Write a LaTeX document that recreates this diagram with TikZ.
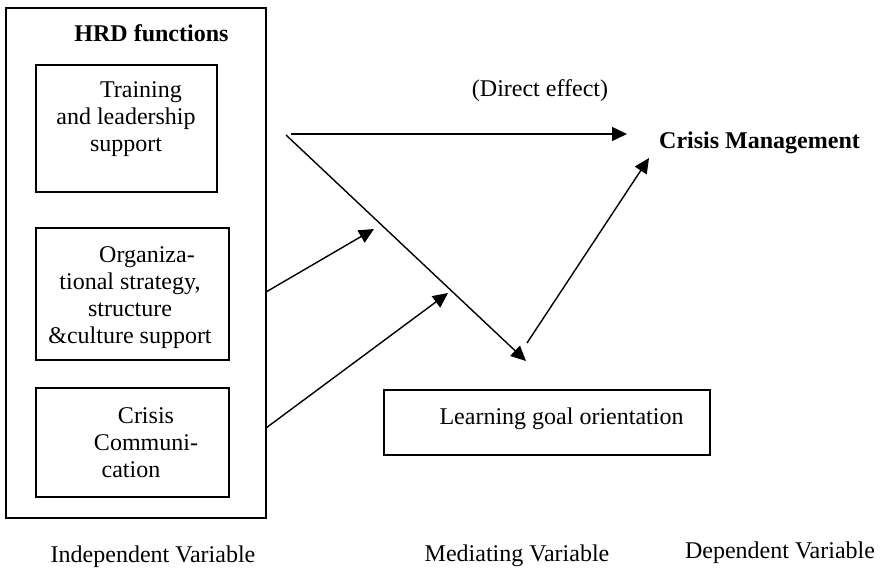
\documentclass[tikz,border=0pt]{standalone}
\usepackage{fontspec}
\setmainfont{Liberation Serif}
\usetikzlibrary{arrows.meta}
\begin{document}
\begin{tikzpicture}[x=1pt,y=-1pt,
  every node/.style={font=\fontsize{24}{27}\selectfont, inner sep=0pt},
  frame/.style={draw, line width=1.6pt, rectangle},
  label text/.style={align=center},
  link/.style={line width=1.4pt, -{Triangle[length=15pt,width=14pt]}}]
\useasboundingbox (0,0) rectangle (881,573);

% HRD functions group
\node[frame, minimum width=260pt, minimum height=510pt] (hrd) at (136,263) {};
\node[font=\fontsize{24}{27}\selectfont\bfseries] (hrdtitle) at (151.5,33) {HRD functions};

\node[frame, minimum width=181pt, minimum height=127pt] (train) at (126.5,128.5) {};
\node[label text] (traintxt) at (126,119) {\hspace*{30pt}Training\\and leadership\\support};

\node[frame, minimum width=193pt, minimum height=132pt] (org) at (132.5,294) {};
\node[label text] (orgtxt) at (130,298) {\hspace*{34pt}Organiza-\\tional strategy,\\structure\\\&culture support};

\node[frame, minimum width=193pt, minimum height=109pt] (comm) at (132.5,442.5) {};
\node[label text] (commtxt) at (146,443) {Crisis\\Communi-\\cation\hspace*{30pt}};

% Mediator and outcome
\node[frame, minimum width=326pt, minimum height=65pt] (lgo) at (547,422.5) {};
\node (lgotxt) at (561.5,419) {Learning goal orientation};

\node[anchor=west, font=\fontsize{24}{27}\selectfont\bfseries] (cm) at (659,143) {Crisis Management};
\node (direct) at (540,91) {(Direct effect)};

% Variable captions
\node (indep) at (153,557) {Independent Variable};
\node (medi) at (517,556) {Mediating Variable};
\node (dep) at (780,553) {Dependent Variable};

% Connector end points
\coordinate (split) at (286,135);
\coordinate (directstart) at (291,134);
\coordinate (directend) at (627,134);
\coordinate (orgout) at (266,292);
\coordinate (orgin) at (374,229);
\coordinate (commout) at (266,428);
\coordinate (commin) at (448,293);
\coordinate (lgoin) at (526,361);
\coordinate (lgoout) at (527,343);
\coordinate (cmin) at (649,158);

\draw[link] (directstart) -- (directend);
\draw[link] (split) -- (lgoin);
\draw[link] (orgout) -- (orgin);
\draw[link] (commout) -- (commin);
\draw[link] (lgoout) -- (cmin);
\end{tikzpicture}
\end{document}
